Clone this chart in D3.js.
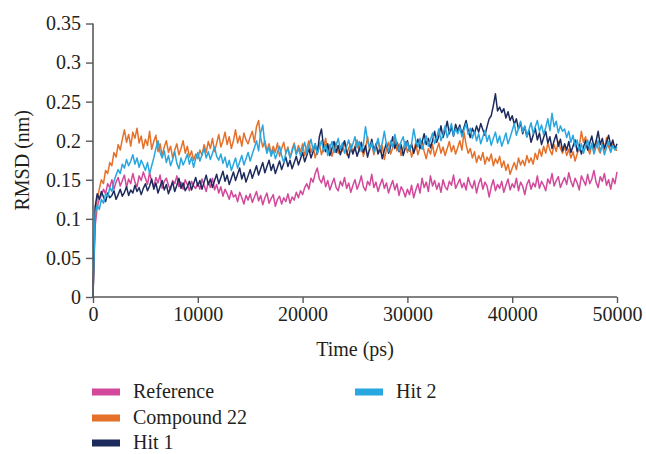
<!DOCTYPE html>
<html>
<head>
<meta charset="utf-8">
<script src="https://cdn.jsdelivr.net/npm/d3@7/dist/d3.min.js"></script>
<style>
  html, body { margin: 0; padding: 0; background: #fff; }
  svg { display: block; }
  text { font-family: "Liberation Serif", "DejaVu Serif", serif; fill: #231f20; }
</style>
</head>
<body>
<svg id="chart" width="646" height="454"></svg>
<script>
// ---- data ----
const seriesNames = ["Reference", "Compound 22", "Hit 1", "Hit 2"];
const seriesColors = ["#d2489a", "#e4702a", "#1c2a5c", "#28a6df"];
const timeStep = 200; // ps between samples
const xTicks = [0, 10000, 20000, 30000, 40000, 50000];
const yTicks = [0, 0.05, 0.1, 0.15, 0.2, 0.25, 0.3, 0.35];

const reference = [
  0, 0.09, 0.115, 0.125, 0.13, 0.138, 0.132, 0.145, 0.14, 0.15, 0.138, 0.147, 0.153, 0.142, 0.149, 0.156, 0.14, 0.151, 0.145, 0.158, 0.147, 0.141, 0.155, 0.149, 0.16,
  0.152, 0.144, 0.159, 0.148, 0.141, 0.153, 0.146, 0.156, 0.139, 0.148, 0.152, 0.143, 0.137, 0.149, 0.145, 0.155, 0.141, 0.147, 0.138, 0.15, 0.144, 0.136, 0.148, 0.142, 0.139,
  0.146, 0.138, 0.151, 0.143, 0.135, 0.147, 0.14, 0.152, 0.137, 0.144, 0.133, 0.141, 0.129, 0.138, 0.132, 0.125, 0.136, 0.128, 0.131, 0.122, 0.134, 0.127, 0.119, 0.13, 0.124,
  0.132, 0.121, 0.128, 0.135, 0.123, 0.13, 0.118, 0.127, 0.133, 0.12, 0.126, 0.131, 0.116, 0.125, 0.129, 0.119, 0.127, 0.122, 0.132, 0.12, 0.128, 0.124, 0.134, 0.127, 0.136,
  0.131, 0.14, 0.145, 0.138, 0.152, 0.147, 0.158, 0.165, 0.151, 0.146, 0.155, 0.141, 0.149, 0.137, 0.145, 0.152, 0.14, 0.136, 0.148, 0.142, 0.153, 0.139, 0.146, 0.134, 0.143,
  0.15, 0.138, 0.145, 0.155, 0.141, 0.136, 0.148, 0.143, 0.157, 0.14, 0.147, 0.135, 0.144, 0.151, 0.139, 0.146, 0.133, 0.142, 0.149, 0.137, 0.145, 0.13, 0.141, 0.136, 0.128,
  0.138, 0.131, 0.143, 0.127, 0.137, 0.145, 0.133, 0.152, 0.14, 0.147, 0.135, 0.155, 0.142, 0.149, 0.138, 0.146, 0.134, 0.15, 0.141, 0.137, 0.148, 0.143, 0.156, 0.139, 0.145,
  0.151, 0.14, 0.146, 0.137, 0.153, 0.144, 0.139, 0.149, 0.133, 0.145, 0.152, 0.138, 0.147, 0.142, 0.128, 0.141, 0.15, 0.136, 0.144, 0.139, 0.148, 0.134, 0.143, 0.151, 0.137,
  0.145, 0.14, 0.152, 0.136, 0.147, 0.142, 0.131, 0.144, 0.15, 0.138, 0.146, 0.141, 0.155, 0.139, 0.148, 0.143, 0.136, 0.151, 0.145, 0.158, 0.142, 0.149, 0.154, 0.14, 0.147,
  0.153, 0.144, 0.159, 0.148, 0.141, 0.152, 0.146, 0.137, 0.155, 0.149, 0.143, 0.157, 0.145, 0.151, 0.162, 0.147, 0.14, 0.154, 0.148, 0.158, 0.143, 0.15, 0.138, 0.152, 0.145,
  0.16
];

const compound22 = [
  0, 0.1, 0.125, 0.138, 0.15, 0.145, 0.162, 0.158, 0.172, 0.168, 0.185, 0.179, 0.195, 0.188, 0.202, 0.214, 0.198, 0.208, 0.193, 0.211, 0.203, 0.216, 0.197, 0.206, 0.19,
  0.202, 0.194, 0.212, 0.189, 0.199, 0.207, 0.186, 0.196, 0.181, 0.192, 0.2, 0.185, 0.193, 0.178, 0.188, 0.196, 0.182, 0.19, 0.2, 0.184, 0.193, 0.179, 0.187, 0.175, 0.183,
  0.177, 0.188, 0.181, 0.195, 0.185, 0.199, 0.19, 0.203, 0.186, 0.197, 0.208, 0.192, 0.2, 0.211, 0.195, 0.205, 0.19, 0.2, 0.214, 0.197, 0.206, 0.193, 0.21, 0.201, 0.196,
  0.205, 0.212, 0.198, 0.218, 0.226, 0.204, 0.192, 0.2, 0.187, 0.196, 0.183, 0.193, 0.185, 0.197, 0.18, 0.19, 0.198, 0.184, 0.192, 0.178, 0.189, 0.197, 0.183, 0.194, 0.186,
  0.196, 0.181, 0.19, 0.2, 0.185, 0.193, 0.178, 0.188, 0.197, 0.182, 0.191, 0.203, 0.186, 0.195, 0.18, 0.19, 0.198, 0.184, 0.193, 0.187, 0.199, 0.182, 0.191, 0.196, 0.184,
  0.193, 0.201, 0.186, 0.195, 0.18, 0.19, 0.205, 0.188, 0.197, 0.182, 0.192, 0.2, 0.185, 0.194, 0.176, 0.189, 0.198, 0.183, 0.191, 0.203, 0.187, 0.196, 0.181, 0.19, 0.199,
  0.185, 0.194, 0.179, 0.188, 0.197, 0.182, 0.191, 0.2, 0.186, 0.177, 0.19, 0.183, 0.195, 0.18, 0.188, 0.197, 0.184, 0.192, 0.181, 0.19, 0.199, 0.186, 0.194, 0.183, 0.191,
  0.2, 0.188, 0.211, 0.195, 0.184, 0.19, 0.178, 0.186, 0.172, 0.181, 0.175, 0.185, 0.17, 0.179, 0.174, 0.183, 0.168, 0.177, 0.171, 0.18, 0.166, 0.174, 0.162, 0.17, 0.157,
  0.165, 0.172, 0.163, 0.178, 0.169, 0.175, 0.168, 0.181, 0.172, 0.178, 0.17, 0.184, 0.176, 0.189, 0.18, 0.193, 0.184, 0.197, 0.188, 0.182, 0.195, 0.186, 0.199, 0.19, 0.184,
  0.193, 0.181, 0.189, 0.178, 0.186, 0.174, 0.183, 0.192, 0.212, 0.198, 0.205, 0.19, 0.183, 0.195, 0.186, 0.2, 0.19, 0.184, 0.197, 0.188, 0.204, 0.192, 0.186, 0.198, 0.19,
  0.187
];

const hit1 = [
  0, 0.115, 0.132, 0.125, 0.135, 0.128, 0.122, 0.133, 0.127, 0.13, 0.136, 0.125, 0.131, 0.138, 0.129, 0.134, 0.141, 0.13, 0.137, 0.133, 0.143, 0.135, 0.14, 0.131, 0.139,
  0.145, 0.136, 0.142, 0.151, 0.138, 0.146, 0.133, 0.141, 0.149, 0.137, 0.144, 0.132, 0.14, 0.147, 0.135, 0.143, 0.152, 0.139, 0.146, 0.136, 0.141, 0.148, 0.137, 0.145, 0.153,
  0.142, 0.149, 0.138, 0.147, 0.156, 0.144, 0.151, 0.14, 0.149, 0.157, 0.145, 0.153, 0.161, 0.148, 0.156, 0.144, 0.152, 0.16, 0.149, 0.157, 0.165, 0.151, 0.159, 0.147, 0.155,
  0.163, 0.152, 0.16, 0.168, 0.156, 0.164, 0.172, 0.159, 0.167, 0.175, 0.162, 0.17, 0.158, 0.166, 0.174, 0.163, 0.171, 0.179, 0.167, 0.175, 0.164, 0.172, 0.18, 0.169, 0.177,
  0.185, 0.173, 0.181, 0.19, 0.178, 0.186, 0.196, 0.183, 0.205, 0.215, 0.192, 0.186, 0.196, 0.181, 0.19, 0.199, 0.185, 0.194, 0.182, 0.191, 0.2, 0.187, 0.178, 0.192, 0.183,
  0.192, 0.18, 0.189, 0.198, 0.185, 0.194, 0.179, 0.19, 0.202, 0.187, 0.196, 0.183, 0.192, 0.177, 0.188, 0.197, 0.184, 0.193, 0.205, 0.19, 0.198, 0.186, 0.195, 0.181, 0.191,
  0.2, 0.187, 0.196, 0.184, 0.193, 0.202, 0.19, 0.198, 0.209, 0.195, 0.203, 0.191, 0.2, 0.212, 0.198, 0.206, 0.219, 0.204, 0.213, 0.225, 0.209, 0.218, 0.206, 0.221, 0.212,
  0.22, 0.208, 0.217, 0.226, 0.213, 0.204, 0.216, 0.209, 0.219, 0.211, 0.222, 0.214, 0.207, 0.218, 0.228, 0.232, 0.245, 0.26, 0.238, 0.243, 0.236, 0.241, 0.229, 0.237, 0.226,
  0.232, 0.221, 0.228, 0.215, 0.223, 0.209, 0.218, 0.205, 0.213, 0.198, 0.207, 0.216, 0.201, 0.21, 0.195, 0.204, 0.212, 0.197, 0.205, 0.19, 0.2, 0.208, 0.193, 0.202, 0.187,
  0.196, 0.188, 0.199, 0.185, 0.193, 0.201, 0.186, 0.195, 0.183, 0.192, 0.2, 0.188, 0.197, 0.206, 0.191, 0.199, 0.212, 0.195, 0.203, 0.19, 0.198, 0.207, 0.193, 0.201, 0.189,
  0.196
];

const hit2 = [
  0, 0.105, 0.118, 0.112, 0.125, 0.12, 0.132, 0.128, 0.14, 0.135, 0.148, 0.156, 0.163, 0.158, 0.17, 0.165, 0.176, 0.168, 0.174, 0.182, 0.17, 0.178, 0.166, 0.175, 0.169,
  0.162, 0.172, 0.158, 0.168, 0.178, 0.19, 0.2, 0.185, 0.178, 0.187, 0.172, 0.181, 0.168, 0.176, 0.186, 0.171, 0.164, 0.178, 0.169, 0.175, 0.183, 0.17, 0.179, 0.166, 0.177,
  0.185, 0.174, 0.182, 0.19, 0.178, 0.186, 0.176, 0.184, 0.192, 0.18, 0.175, 0.183, 0.171, 0.179, 0.166, 0.175, 0.162, 0.17, 0.178, 0.165, 0.173, 0.181, 0.169, 0.177, 0.185,
  0.174, 0.183, 0.191, 0.2, 0.187, 0.21, 0.22, 0.195, 0.184, 0.192, 0.18, 0.188, 0.177, 0.185, 0.193, 0.181, 0.172, 0.184, 0.19, 0.178, 0.186, 0.195, 0.182, 0.19, 0.181,
  0.189, 0.198, 0.184, 0.193, 0.202, 0.188, 0.196, 0.183, 0.192, 0.2, 0.186, 0.195, 0.181, 0.19, 0.199, 0.185, 0.194, 0.203, 0.189, 0.197, 0.184, 0.193, 0.201, 0.188, 0.196,
  0.205, 0.191, 0.199, 0.186, 0.195, 0.218, 0.2, 0.19, 0.198, 0.185, 0.194, 0.203, 0.189, 0.197, 0.212, 0.195, 0.186, 0.2, 0.192, 0.208, 0.196, 0.187, 0.199, 0.205, 0.191,
  0.198, 0.187, 0.196, 0.215, 0.2, 0.192, 0.203, 0.189, 0.197, 0.206, 0.193, 0.201, 0.21, 0.196, 0.204, 0.215, 0.2, 0.208, 0.219, 0.204, 0.212, 0.222, 0.207, 0.215, 0.209,
  0.217, 0.205, 0.214, 0.222, 0.208, 0.216, 0.203, 0.212, 0.2, 0.209, 0.196, 0.205, 0.213, 0.199, 0.207, 0.194, 0.203, 0.211, 0.197, 0.206, 0.193, 0.201, 0.21, 0.196, 0.204,
  0.213, 0.222, 0.207, 0.216, 0.225, 0.211, 0.219, 0.205, 0.214, 0.223, 0.209, 0.218, 0.226, 0.212, 0.22, 0.208, 0.217, 0.228, 0.213, 0.235, 0.218, 0.225, 0.21, 0.219, 0.212,
  0.215, 0.204, 0.212, 0.198, 0.207, 0.193, 0.201, 0.187, 0.196, 0.184, 0.193, 0.201, 0.188, 0.197, 0.183, 0.192, 0.2, 0.186, 0.195, 0.182, 0.191, 0.199, 0.185, 0.194, 0.188,
  0.192
];

const seriesValues = [reference, compound22, hit1, hit2];

// ---- layout ----
const svg = d3.select("#chart");
const plot = { left: 93, right: 617, top: 23.5, bottom: 297 };
const fontSize = 20;

const x = d3.scaleLinear().domain([0, 50000]).range([plot.left, plot.right]);
const y = d3.scaleLinear().domain([0, 0.35]).range([plot.bottom, plot.top]);

// lines
const line = d3.line().x(d => x(d[0])).y(d => y(d[1]));
seriesValues.forEach((vals, i) => {
  const pts = vals.map((v, j) => [j * timeStep, v]);
  svg.append("path")
    .datum(pts)
    .attr("fill", "none")
    .attr("stroke", seriesColors[i])
    .attr("stroke-width", 1.5)
    .attr("stroke-linejoin", "round")
    .attr("d", line);
});

// axes
const axisColor = "#595959";
const yAxis = svg.append("g")
  .attr("transform", `translate(${plot.left},0)`)
  .call(d3.axisLeft(y).tickValues(yTicks).tickSize(7).tickPadding(5)
        .tickFormat(d => d3.format("")(+d.toFixed(2))));
const xAxis = svg.append("g")
  .attr("transform", `translate(0,${plot.bottom})`)
  .call(d3.axisBottom(x).tickValues(xTicks).tickSize(6).tickPadding(4)
        .tickFormat(d3.format("d")));
[yAxis, xAxis].forEach(g => {
  g.select(".domain").attr("stroke", axisColor).attr("stroke-width", 1.6);
  g.selectAll(".tick line").attr("stroke", axisColor).attr("stroke-width", 1.4);
  g.selectAll(".tick text")
    .attr("font-family", "Liberation Serif, DejaVu Serif, serif")
    .attr("font-size", fontSize).attr("fill", "#231f20");
});
yAxis.select(".domain").attr("d", `M0,${plot.top}V${plot.bottom}`);
xAxis.select(".domain").attr("d", `M${plot.left},0H${plot.right}`);

// axis titles
svg.append("text")
  .attr("x", (plot.left + plot.right) / 2).attr("y", 356)
  .attr("text-anchor", "middle").attr("font-size", fontSize)
  .text("Time (ps)");
svg.append("text")
  .attr("transform", `translate(29,${(plot.top + plot.bottom) / 2}) rotate(-90)`)
  .attr("text-anchor", "middle").attr("font-size", fontSize)
  .text("RMSD (nm)");

// legend
const legendPos = [[92, 392], [92, 418], [92, 443], [355, 392]];
seriesNames.forEach((name, i) => {
  const [lx, ly] = legendPos[i];
  svg.append("rect")
    .attr("x", lx).attr("y", ly - 3.5).attr("width", 28).attr("height", 7)
    .attr("fill", seriesColors[i]);
  svg.append("text")
    .attr("x", lx + 41).attr("y", ly + 6)
    .attr("font-size", fontSize)
    .text(name);
});
</script>
</body>
</html>
